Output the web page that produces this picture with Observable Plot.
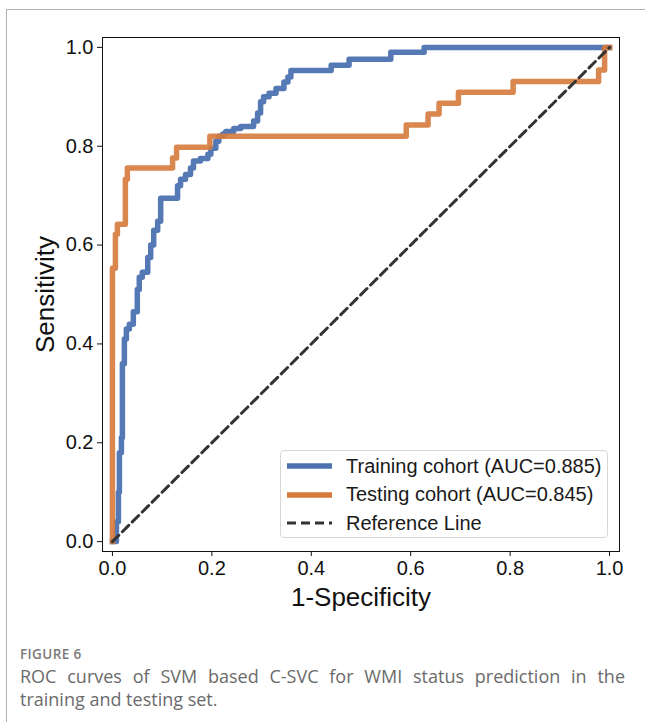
<!DOCTYPE html>
<html>
<head>
<meta charset="utf-8">
<script src="https://cdn.jsdelivr.net/npm/d3@7"></script>
<script src="https://cdn.jsdelivr.net/npm/@observablehq/plot@0.6"></script>
<style>
  body { margin: 0; background: #fff; }
  #wrap { position: relative; width: 645px; height: 722px; overflow: hidden; background: #fff; }
  #border { position: absolute; left: 6px; top: 9px; width: 800px; height: 900px; border-left: 1px solid #b0b0b0; border-top: 1px solid #b0b0b0; }
  #chart { position: absolute; left: 0; top: 0; }
  #legend { position: absolute; left: 280px; top: 450px; width: 328px; height: 88px; box-sizing: border-box;
            border: 1px solid #d6d6d6; border-radius: 4px; background: rgba(255,255,255,0.85);
            font-family: "Liberation Sans", Arial, sans-serif; font-size: 20px; color: #1a1a1a; }
  .row { position: absolute; left: 0; height: 28px; display: flex; align-items: center; }
  .row svg { margin-left: 5px; }
  .row span { margin-left: 13px; white-space: nowrap; }
  #cap { position: absolute; left: 20px; top: 645px; width: 605px; font-family: "Open Sans", "Noto Sans", sans-serif; color: #6b6b6b; }
  #fig { font-size: 13.5px; font-weight: 600; letter-spacing: 0.4px; color: #7a7a7a; line-height: 18px; }
  #txt { font-size: 18px; line-height: 23px; text-align: justify; margin-top: 2px; }
</style>
</head>
<body>
<div id="wrap">
  <div id="border"></div>
  <div id="chart"></div>
  <div id="legend"></div>
  <div id="cap">
    <div id="fig">FIGURE 6</div>
    <div id="txt">ROC curves of SVM based C-SVC for WMI status prediction in the training and testing set.</div>
  </div>
</div>
<script>
// ---- data ----
const trainFpr = [0,0.008,0.008,0.012,0.012,0.014,0.014,0.018,0.018,0.020,0.020,0.024,0.024,0.028,0.028,0.034,0.034,0.042,0.042,0.050,0.050,0.054,0.054,0.060,0.060,0.071,0.071,0.077,0.077,0.083,0.083,0.091,0.091,0.097,0.097,0.131,0.131,0.137,0.137,0.147,0.147,0.157,0.157,0.163,0.163,0.177,0.177,0.192,0.192,0.198,0.198,0.208,0.208,0.214,0.214,0.222,0.222,0.228,0.228,0.244,0.244,0.258,0.258,0.284,0.284,0.292,0.292,0.298,0.298,0.304,0.304,0.315,0.315,0.329,0.329,0.345,0.345,0.353,0.353,0.359,0.359,0.440,0.440,0.476,0.476,0.560,0.560,0.627,0.627,1.0];
const trainTpr = [0,0,0.04,0.04,0.10,0.10,0.18,0.18,0.21,0.21,0.36,0.36,0.41,0.41,0.43,0.43,0.44,0.44,0.465,0.465,0.51,0.51,0.535,0.535,0.545,0.545,0.575,0.575,0.60,0.60,0.63,0.63,0.648,0.648,0.695,0.695,0.72,0.72,0.733,0.733,0.743,0.743,0.756,0.756,0.77,0.77,0.775,0.775,0.784,0.784,0.796,0.796,0.81,0.81,0.82,0.82,0.825,0.825,0.83,0.83,0.836,0.836,0.84,0.84,0.851,0.851,0.867,0.867,0.89,0.89,0.90,0.90,0.907,0.907,0.917,0.917,0.93,0.93,0.94,0.94,0.953,0.953,0.964,0.964,0.976,0.976,0.99,0.99,1.0,1.0];
const testFpr = [0,0,0.006,0.006,0.010,0.010,0.026,0.026,0.030,0.030,0.121,0.121,0.129,0.129,0.196,0.196,0.591,0.591,0.635,0.635,0.657,0.657,0.696,0.696,0.806,0.806,0.978,0.978,0.990,0.990,1.0];
const testTpr = [0,0.553,0.553,0.622,0.622,0.642,0.642,0.733,0.733,0.756,0.756,0.776,0.776,0.798,0.798,0.82,0.82,0.843,0.843,0.865,0.865,0.887,0.887,0.909,0.909,0.931,0.931,0.954,0.954,1.0,1.0];
const refFpr = [0, 1];
const refTpr = [0, 1];
const tickValues = [0, 0.2, 0.4, 0.6, 0.8, 1.0];
const seriesNames = ["Training cohort (AUC=0.885)", "Testing cohort (AUC=0.845)", "Reference Line"];
const seriesColors = ["#4C72B0", "#D67A3C", "#333333"];
const xLabel = "1-Specificity";
const yLabel = "Sensitivity";

const train = trainFpr.map((x, i) => ({x, y: trainTpr[i]}));
const test = testFpr.map((x, i) => ({x, y: testTpr[i]}));
const ref = refFpr.map((x, i) => ({x, y: refTpr[i]}));

const font = "'Liberation Sans', Arial, sans-serif";
const chart = Plot.plot({
  width: 645,
  height: 620,
  marginLeft: 102,
  marginRight: 26,
  marginTop: 37,
  marginBottom: 69,
  x: {domain: [-0.02, 1.02]},
  y: {domain: [-0.02, 1.02]},
  style: {fontFamily: font, fontSize: "20px", color: "#111", background: "transparent", overflow: "visible"},
  marks: [
    Plot.axisX({ticks: tickValues, tickFormat: d => d.toFixed(1), tickSize: 5, tickPadding: 4, label: null, fontSize: 20, stroke: "#111"}),
    Plot.axisY({ticks: tickValues, tickFormat: d => d.toFixed(1), tickSize: 5, tickPadding: 4, label: null, fontSize: 20, stroke: "#111"}),
    Plot.line(train, {x: "x", y: "y", stroke: seriesColors[0], strokeWidth: 5.5, strokeOpacity: 0.95, strokeLinejoin: "round", strokeLinecap: "square"}),
    Plot.line(test, {x: "x", y: "y", stroke: seriesColors[1], strokeWidth: 5.5, strokeOpacity: 0.9, strokeLinejoin: "round", strokeLinecap: "square"}),
    Plot.line(ref, {x: "x", y: "y", stroke: seriesColors[2], strokeWidth: 3, strokeDasharray: "9,5"}),
    Plot.frame({stroke: "#111", strokeWidth: 1}),
    Plot.text([xLabel], {text: d => d, frameAnchor: "bottom", lineAnchor: "middle", textAnchor: "middle", dy: 46, fontSize: 26, fill: "#111"}),
    Plot.text([yLabel], {text: d => d, frameAnchor: "left", lineAnchor: "middle", textAnchor: "middle", dx: -57, rotate: -90, fontSize: 26, fill: "#111"})
  ]
});
document.getElementById("chart").appendChild(chart);

// legend
const leg = document.getElementById("legend");
seriesNames.forEach((name, i) => {
  const row = document.createElement("div");
  row.className = "row";
  row.style.top = (1 + 28.5 * i) + "px";
  const dash = i === 2 ? 'stroke-dasharray="9,5"' : '';
  const sw = i === 2 ? 3 : 5.5;
  row.innerHTML = `<svg width="47" height="12"><line x1="1" x2="46" y1="6" y2="6" stroke="${seriesColors[i]}" stroke-width="${sw}" ${dash}/></svg><span>${name}</span>`;
  leg.appendChild(row);
});
</script>
</body>
</html>
